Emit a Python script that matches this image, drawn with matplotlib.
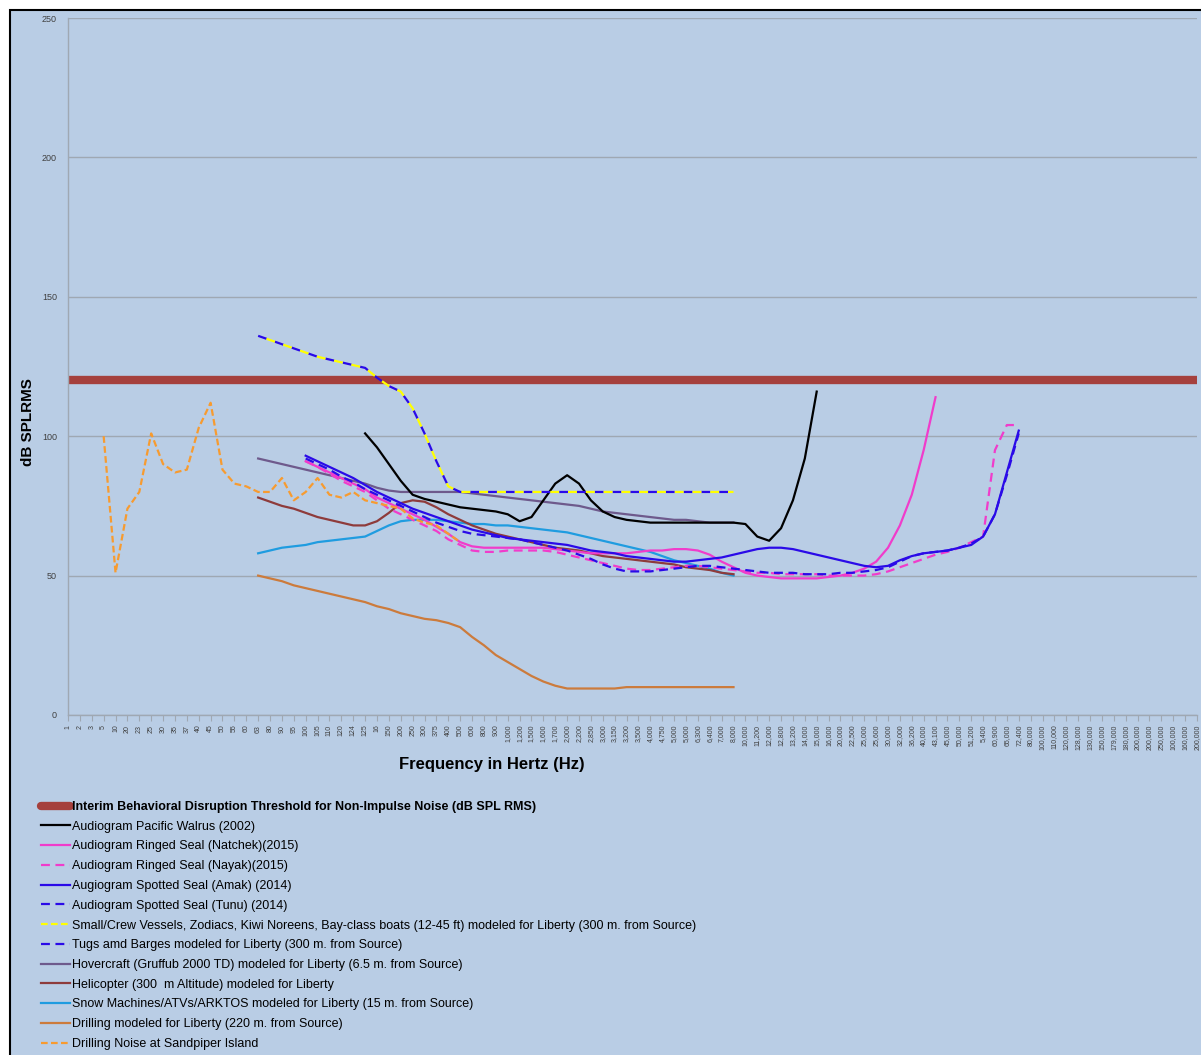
import numpy as np
import matplotlib
matplotlib.use("Agg")
import matplotlib.pyplot as plt
from matplotlib.patches import Rectangle
from matplotlib.lines import Line2D

plt.rcParams['font.family'] = ['Liberation Sans Narrow', 'Liberation Sans', 'DejaVu Sans']

# category axis (frequency in Hz, as printed on the chart)
freq_labels = [
    "1", "2", "3", "5", "10", "20", "23", "25", "30", "35", "37", "40", "45", "50", "55", "60",
    "63", "80", "90", "95", "100", "105", "110", "120", "124", "125", "16", "150", "200", "250",
    "300", "375", "400", "500", "600", "800", "900", "1,000", "1,200", "1,500", "1,600", "1,700",
    "2,000", "2,200", "2,850", "3,000", "3,150", "3,200", "3,500", "4,000", "4,750", "5,000",
    "5,000", "6,300", "6,400", "7,000", "8,000", "10,000", "11,200", "12,000", "12,800", "13,200",
    "14,000", "15,000", "16,000", "20,000", "22,500", "25,000", "25,600", "30,000", "32,000",
    "36,200", "40,000", "43,100", "45,000", "50,000", "51,200", "5,400", "60,900", "65,000",
    "72,400", "80,000", "100,000", "110,000", "120,000", "128,000", "130,000", "150,000",
    "179,000", "180,000", "200,000", "200,000", "250,000", "100,000", "160,000", "200,000",
]

threshold = 120

# each series: first category index, then dB values
walrus_start = 25
walrus = [101, 96, 90, 84, 79, 77.5, 76.5, 75.5, 74.5, 74, 73.5, 73, 72, 69.5, 71, 77, 83, 86,
          83, 77, 73, 71, 70, 69.5, 69, 69, 69, 69, 69, 69, 69, 69, 68.5, 64, 62.5, 67, 77, 92, 116]

natchek_start = 20
natchek = [91, 89, 87, 85, 83, 81, 78, 76, 74, 72, 70, 67.5, 65, 62, 60.5, 60, 60, 60, 60, 60,
           60, 59.5, 59, 58.5, 58, 58, 58, 58, 58.5, 59, 59, 59.5, 59.5, 59, 57.5, 55, 53, 51,
           50, 49.5, 49, 49, 49, 49, 49.5, 50, 51, 52.5, 55, 60, 68, 79, 95, 114]

nayak_start = 20
nayak = [91, 89, 86.5, 84, 82, 80, 77, 74, 72, 70, 68, 66, 63, 61, 59, 58.5, 58.5, 59, 59, 59,
         59, 58.5, 57.5, 56.5, 55.5, 54.5, 53.5, 52.5, 52, 52, 52.5, 53, 53.5, 53.5, 53, 52.5,
         52, 51.5, 51, 51, 50.5, 50.5, 50.5, 50.5, 50, 50, 50, 50, 50.5, 51.5, 53, 54.5, 56,
         57.5, 58.5, 60, 62, 64, 95, 104, 104]

amak_start = 20
amak = [93, 91, 89, 87, 85, 82.5, 80, 78, 76, 74, 72.5, 71, 69.5, 68, 66.5, 65.5, 64.5, 63.5,
        63, 62.5, 62, 61.5, 61, 60, 59, 58.5, 58, 57, 56.5, 56, 55.5, 55, 55, 55.5, 56, 56.5,
        57.5, 58.5, 59.5, 60, 60, 59.5, 58.5, 57.5, 56.5, 55.5, 54.5, 53.5, 53, 53.5, 55.5, 57,
        58, 58.5, 59, 60, 61, 64, 72, 87, 102]

tunu_start = 20
tunu = [92, 90, 88, 85.5, 83.5, 81, 79, 77, 75, 73, 71, 69, 67.5, 66, 65, 64.5, 64, 63.5, 63,
        62, 61, 60, 59, 57.5, 56, 54, 52.5, 51.5, 51.5, 51.5, 52, 52.5, 53, 53.5, 53.5, 53,
        52.5, 52, 51.5, 51, 51, 51, 50.5, 50.5, 50.5, 51, 51, 51.5, 52, 53, 55, 57, 58, 58.5,
        59, 60, 61.5, 64, 72, 86, 101]

vessels_start = 16
vessels = [136, 134.5, 133, 131.5, 130, 128.5, 127.5, 126.5, 125.5, 124.5, 121, 118, 116, 110,
           101, 91, 82, 80, 80, 80, 80, 80, 80, 80, 80, 80, 80, 80, 80, 80, 80, 80, 80, 80, 80,
           80, 80, 80, 80, 80, 80]
tugs_start = 16
tugs = list(vessels)

hover_start = 16
hover = [92, 91, 90, 89, 88, 87, 86, 85, 84, 83, 81.5, 80.5, 80, 80, 80, 80, 80, 80, 79.5, 79,
         78.5, 78, 77.5, 77, 76.5, 76, 75.5, 75, 74, 73, 72.5, 72, 71.5, 71, 70.5, 70, 70, 69.5,
         69, 69, 69]

heli_start = 16
heli = [78, 76.5, 75, 74, 72.5, 71, 70, 69, 68, 68, 69.5, 72.5, 76, 77, 76.5, 74.5, 72, 70, 68,
        66.5, 65, 64, 63, 62, 61, 60, 59.5, 59, 58, 57, 56.5, 56, 55.5, 55, 54.5, 54, 53, 52.5,
        52, 51, 50.5]

snow_start = 16
snow = [58, 59, 60, 60.5, 61, 62, 62.5, 63, 63.5, 64, 66, 68, 69.5, 70, 70, 70, 69.5, 69, 68.5,
        68.5, 68, 68, 67.5, 67, 66.5, 66, 65.5, 64.5, 63.5, 62.5, 61.5, 60.5, 59.5, 58.5, 57,
        55.5, 54.5, 53.5, 52.5, 51, 50]

drill_start = 16
drill = [50, 49, 48, 46.5, 45.5, 44.5, 43.5, 42.5, 41.5, 40.5, 39, 38, 36.5, 35.5, 34.5, 34, 33,
         31.5, 28, 25, 21.5, 19, 16.5, 14, 12, 10.5, 9.5, 9.5, 9.5, 9.5, 9.5, 10, 10, 10, 10, 10,
         10, 10, 10, 10, 10]

sandpiper_start = 3
sandpiper = [100, 51, 74, 80, 101, 90, 87, 88, 103, 112, 88, 83, 82, 80, 80, 85, 77, 80, 85, 79,
             78, 80, 77, 76, 75, 74, 70.5, 69, 68, 65, 62]

bg = '#B9CDE5'
grid_c = '#9FA8B3'

fig = plt.figure(figsize=(12.01, 10.55), dpi=100)
fig.patch.set_facecolor('white')
fig.patches.append(Rectangle((10 / 1201, -0.05), 1.1, 1 - 10 / 1055 + 0.05,
                             transform=fig.transFigure, facecolor=bg, edgecolor='black',
                             linewidth=1.5, zorder=-10))

ax = fig.add_axes([68 / 1201, 1 - 715 / 1055, (1197 - 68) / 1201, (715 - 18) / 1055])
ax.set_facecolor(bg)
ax.patch.set_alpha(0)

n = len(freq_labels)
ax.set_xlim(0, n - 1)
ax.set_ylim(0, 250)
ax.set_yticks([0, 50, 100, 150, 200, 250])
ax.yaxis.grid(True, color=grid_c, linewidth=1)
ax.set_axisbelow(True)
for s in ['top', 'right']:
    ax.spines[s].set_visible(False)
for s in ['left', 'bottom']:
    ax.spines[s].set_color(grid_c)
    ax.spines[s].set_linewidth(1)
ax.tick_params(axis='y', length=0, labelsize=6.5, labelcolor='#404040', pad=8)
ax.set_xticks(np.arange(n))
ax.set_xticklabels(freq_labels, rotation=90, fontsize=5, color='#404040')
ax.tick_params(axis='x', length=4, color=grid_c, direction='out', pad=3)

lw = 1.6
dash = (4, 2.5)


def series(start, vals, **kw):
    x = np.arange(start, start + len(vals))
    return ax.plot(x, vals, **kw)[0]


h_thr = ax.axhline(threshold, color='#A5403D', linewidth=6, solid_capstyle='butt', zorder=2)
h_drill = series(drill_start, drill, color='#CC7B3C', lw=lw)
h_snow = series(snow_start, snow, color='#1F9CE0', lw=lw)
h_heli = series(heli_start, heli, color='#8E3B3B', lw=lw)
h_hover = series(hover_start, hover, color='#6E5A8C', lw=lw)
h_walrus = series(walrus_start, walrus, color='black', lw=lw)
h_natchek = series(natchek_start, natchek, color='#F03CCB', lw=lw)
h_nayak = series(nayak_start, nayak, color='#F03CCB', lw=lw, ls=(0, dash))
h_amak = series(amak_start, amak, color='#2A0AE8', lw=lw)
h_tunu = series(tunu_start, tunu, color='#2A0AE8', lw=lw, ls=(0, dash))
h_tugs = series(tugs_start, tugs, color='#2A0AE8', lw=lw, ls=(0, (4, 4)))
h_vessels = series(vessels_start, vessels, color='#FFFF00', lw=lw, ls=(4, (4, 4)))
h_sand = series(sandpiper_start, sandpiper, color='#F79B30', lw=lw, ls=(0, (3, 1.5)))

ax.set_ylabel('dB SPLRMS', fontsize=11, fontweight='bold')
ax.yaxis.set_label_coords(-0.029, 0.42)
fig.text(492 / 1201, 1 - 765 / 1055, 'Frequency in Hertz (Hz)', fontsize=12,
         fontweight='bold', ha='center', va='center')

handles = [
    Line2D([], [], color='#A5403D', lw=6, solid_capstyle='round'),
    Line2D([], [], color='black', lw=lw),
    Line2D([], [], color='#F03CCB', lw=lw),
    Line2D([], [], color='#F03CCB', lw=lw, ls=(0, dash)),
    Line2D([], [], color='#2A0AE8', lw=lw),
    Line2D([], [], color='#2A0AE8', lw=lw, ls=(0, dash)),
    Line2D([], [], color='#FFFF00', lw=lw, ls=(0, (3, 1.5))),
    Line2D([], [], color='#2A0AE8', lw=lw, ls=(0, dash)),
    Line2D([], [], color='#6E5A8C', lw=lw),
    Line2D([], [], color='#8E3B3B', lw=lw),
    Line2D([], [], color='#1F9CE0', lw=lw),
    Line2D([], [], color='#CC7B3C', lw=lw),
    Line2D([], [], color='#F79B30', lw=lw, ls=(0, (3, 1.5))),
]
labels = [
    'Interim Behavioral Disruption Threshold for Non-Impulse Noise (dB SPL RMS)',
    'Audiogram Pacific Walrus (2002)',
    'Audiogram Ringed Seal (Natchek)(2015)',
    'Audiogram Ringed Seal (Nayak)(2015)',
    'Augiogram Spotted Seal (Amak) (2014)',
    'Audiogram Spotted Seal (Tunu) (2014)',
    'Small/Crew Vessels, Zodiacs, Kiwi Noreens, Bay-class boats (12-45 ft) modeled for Liberty (300 m. from Source)',
    'Tugs amd Barges modeled for Liberty (300 m. from Source)',
    'Hovercraft (Gruffub 2000 TD) modeled for Liberty (6.5 m. from Source)',
    'Helicopter (300  m Altitude) modeled for Liberty',
    'Snow Machines/ATVs/ARKTOS modeled for Liberty (15 m. from Source)',
    'Drilling modeled for Liberty (220 m. from Source)',
    'Drilling Noise at Sandpiper Island',
]
leg = fig.legend(handles, labels, loc='upper left', bbox_to_anchor=(36 / 1201, 1 - 796 / 1055),
                 frameon=False, fontsize=9, handlelength=2.3, handletextpad=0.15,
                 labelspacing=0.62, borderaxespad=0)
leg.get_texts()[0].set_fontweight('bold')

fig.savefig('out.png', dpi=100, facecolor='white')
